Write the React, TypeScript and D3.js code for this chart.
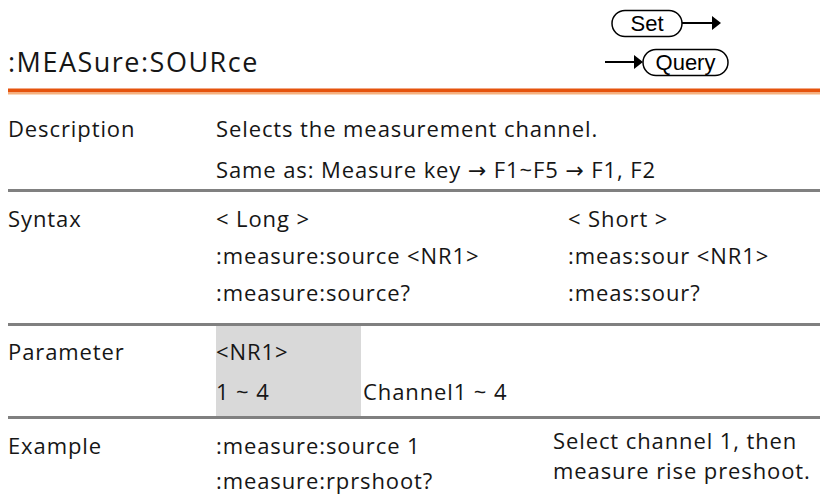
import * as React from 'react';
import * as d3 from 'd3';

const title = ':MEASure:SOURce';
const rowLabels = ['Description', 'Syntax', 'Parameter', 'Example'];
const descriptionLines = ['Selects the measurement channel.', 'Same as: Measure key \u2192 F1~F5 \u2192 F1, F2'];
const syntaxLong = ['< Long >', ':measure:source <NR1>', ':measure:source?'];
const syntaxShort = ['< Short >', ':meas:sour <NR1>', ':meas:sour?'];
const paramNames = ['<NR1>', '1 ~ 4'];
const paramNotes = ['', 'Channel1 ~ 4'];
const exampleCommands = [':measure:source 1', ':measure:rprshoot?'];
const exampleNotes = ['Select channel 1, then', 'measure rise preshoot.'];

const W = 820;
const H = 499;
const font = "'Open Sans', 'DejaVu Sans', sans-serif";
const ink = '#161616';

const App: React.FC = () => {
  const ref = React.useRef<SVGSVGElement>(null);

  React.useEffect(() => {
    const svg = d3.select(ref.current);
    svg.selectAll('*').remove();

    const col = { label: 8, main: 216, note: 363, short: 568, exNote: 553 };

    // header
    svg.append('text').attr('x', 8).attr('y', 72)
      .attr('font-family', font).attr('font-size', 27).attr('letter-spacing', 1.5)
      .attr('fill', ink).text(title);

    svg.append('rect').attr('x', 8).attr('y', 88.5).attr('width', W - 8).attr('height', 4).attr('fill', '#e5530d');
    svg.append('rect').attr('x', 8).attr('y', 92.5).attr('width', W - 8).attr('height', 2).attr('fill', '#f6b27e');

    // set / query badges
    const badge = (x: number, y: number, w: number, label: string) => {
      svg.append('rect').attr('x', x).attr('y', y).attr('width', w).attr('height', 26)
        .attr('rx', 13).attr('fill', 'white').attr('stroke', '#000').attr('stroke-width', 1.5);
      svg.append('text').attr('x', x + w / 2).attr('y', y + 20).attr('text-anchor', 'middle')
        .attr('font-family', "'Liberation Sans', Arial, sans-serif").attr('font-size', 22).attr('fill', '#000').text(label);
    };
    const arrow = (x1: number, x2: number, y: number) => {
      svg.append('line').attr('x1', x1).attr('x2', x2 - 7).attr('y1', y).attr('y2', y)
        .attr('stroke', '#000').attr('stroke-width', 2);
      svg.append('path').attr('d', `M${x2 - 9},${y - 7}L${x2},${y}L${x2 - 9},${y + 7}Z`).attr('fill', '#000');
    };
    badge(612, 10.5, 70, 'Set');
    arrow(682, 721, 23);
    arrow(605, 643, 62);
    badge(643, 49.5, 85, 'Query');

    // separators
    const seps = [190.5, 324.5, 417.5];
    svg.selectAll('rect.sep').data(seps).join('rect').attr('class', 'sep')
      .attr('x', 8).attr('y', d => d - 1.5).attr('width', W - 8).attr('height', 3).attr('fill', '#808080');

    svg.append('rect').attr('x', 216).attr('y', 326).attr('width', 145).attr('height', 90).attr('fill', '#d9d9d9');

    const txt = (x: number, y: number, s: string) => {
      if (!s) return;
      svg.append('text').attr('x', x).attr('y', y).attr('font-family', font).attr('font-size', 22)
        .attr('letter-spacing', 0.9).attr('fill', ink).text(s);
    };

    const labelY = [137, 227, 360, 454];
    rowLabels.forEach((l, i) => txt(col.label, labelY[i], l));

    const descY = [137, 178];
    descriptionLines.forEach((s, i) => txt(col.main, descY[i], s));

    const synY = [227, 264, 301];
    syntaxLong.forEach((s, i) => txt(col.main, synY[i], s));
    syntaxShort.forEach((s, i) => txt(col.short, synY[i], s));

    const parY = [360, 400];
    paramNames.forEach((s, i) => txt(col.main, parY[i], s));
    paramNotes.forEach((s, i) => txt(col.note, parY[i], s));

    const exY = [454, 489];
    exampleCommands.forEach((s, i) => txt(col.main, exY[i], s));
    const exNoteY = [449, 479];
    exampleNotes.forEach((s, i) => txt(col.exNote, exNoteY[i], s));
  }, []);

  return (
    <svg ref={ref} width={W} height={H}
      style={{ position: 'absolute', left: 0, top: 0, background: 'white' }} />
  );
};

export default App;
